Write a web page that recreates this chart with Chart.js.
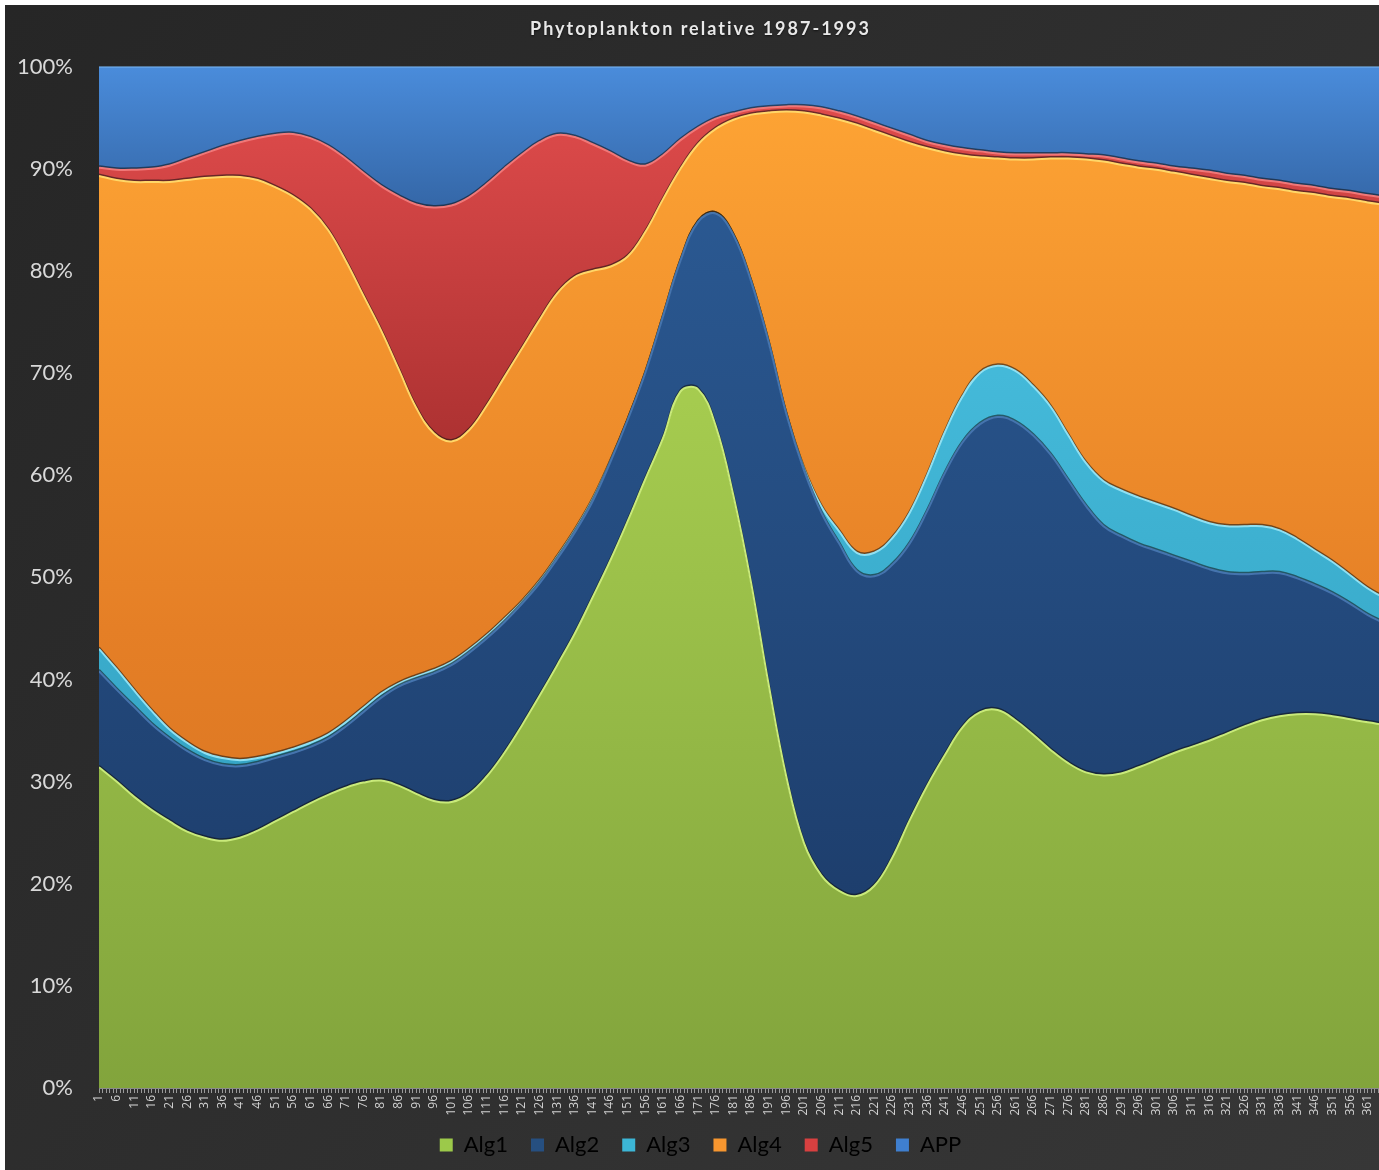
<!DOCTYPE html>
<html>
<head>
<meta charset="utf-8">
<script src="https://cdn.jsdelivr.net/npm/chart.js@4.4.1/dist/chart.umd.min.js"></script>
<style>
html,body{margin:0;padding:0;background:#ffffff;overflow:hidden;width:1379px;height:1170px;}
#wrap{position:absolute;left:5px;top:5px;width:1391px;height:1165px;}
</style>
</head>
<body>
<div id="wrap"><canvas id="c"></canvas></div>
<script>
// ---- data (day of year, % of total) ----
const days = [1,6,11,16,21,26,31,36,41,46,51,56,61,66,71,76,81,86,91,96,101,106,111,116,121,126,131,136,141,146,151,156,161,166,171,176,181,186,191,196,201,206,211,216,221,226,231,236,241,246,251,256,261,266,271,276,281,286,291,296,301,306,311,316,321,326,331,336,341,346,351,356,361,365];

const alg1 = [31.4,30.0,28.5,27.2,26.1,25.1,24.5,24.2,24.5,25.2,
              26.1,27.0,27.9,28.7,29.4,29.9,30.1,29.6,28.8,28.1,
              28.0,28.8,30.5,32.8,35.5,38.4,41.4,44.5,48.0,51.6,
              55.5,59.6,63.6,68.2,68.4,64.8,58.0,49.5,39.5,30.5,
              24.0,20.8,19.3,18.8,19.8,22.5,26.2,29.6,32.6,35.3,
              36.8,37.0,36.0,34.6,33.1,31.8,30.9,30.6,30.8,31.4,
              32.1,32.8,33.4,34.0,34.7,35.4,36.0,36.4,36.6,36.6,
              36.4,36.1,35.8,35.6];

const alg2 = [9.4,9.0,8.8,8.4,8.1,7.9,7.6,7.4,7.0,6.6,
              6.2,5.8,5.5,5.5,6.0,6.9,8.1,9.7,11.2,12.5,
              13.4,13.8,13.5,12.8,11.9,11.0,10.4,9.9,9.4,9.6,
              9.9,10.4,11.9,12.8,16.4,20.8,25.5,29.5,33.5,35.5,
              36.5,35.5,34.0,31.8,30.3,28.7,27.1,26.9,27.6,27.9,
              28.2,28.7,29.2,29.3,28.9,27.7,26.1,24.4,23.2,21.8,
              20.5,19.2,18.0,16.8,15.7,14.9,14.4,14.0,13.3,12.6,
              12.0,11.3,10.5,10.0];

const alg3 = [2.2,2.0,1.6,1.3,0.9,0.8,0.7,0.7,0.6,0.5,
              0.4,0.4,0.4,0.4,0.4,0.4,0.4,0.3,0.3,0.3,
              0.3,0.3,0.3,0.3,0.2,0.2,0.2,0.2,0.2,0.1,
              0,0,0,0,0,0,0,0,0,0,
              0.2,0.6,1.2,1.8,2.3,2.6,3.0,3.5,4.0,4.5,
              5.0,5.0,5.0,4.8,4.7,4.4,4.2,4.4,4.5,4.6,
              4.6,4.6,4.5,4.5,4.6,4.7,4.6,4.2,3.8,3.4,
              3.1,2.8,2.6,2.5];

const alg4 = [46.3,47.9,49.8,51.8,53.6,55.1,56.3,56.9,57.1,56.6,
              55.5,54.1,52.2,49.4,45.2,40.4,35.6,30.8,26.3,23.2,
              21.6,21.5,22.5,23.7,24.8,25.6,25.8,24.8,22.4,19.1,
              16.0,13.8,11.5,9.0,7.6,8.3,11.3,16.3,22.5,29.6,
              34.8,38.3,40.3,41.9,41.3,39.3,36.2,32.0,27.4,23.6,
              21.1,20.3,20.7,22.2,24.3,27.1,29.7,31.3,31.9,32.3,
              32.7,33.0,33.4,33.7,33.7,33.5,33.2,33.4,34.0,34.9,
              35.7,36.8,37.8,38.4];

const alg5 = [0.8,1.0,1.2,1.3,1.6,2.0,2.4,2.9,3.4,4.1,
              5.1,6.1,7.0,8.2,10.0,12.0,14.1,16.9,19.9,22.1,
              23.1,22.8,21.7,20.4,19.0,17.4,15.5,13.7,12.4,11.2,
              9.3,6.5,4.3,2.8,1.6,1.0,0.6,0.5,0.5,0.5,
              0.6,0.7,0.7,0.7,0.7,0.7,0.7,0.6,0.6,0.6,
              0.6,0.5,0.5,0.5,0.4,0.4,0.4,0.5,0.5,0.5,
              0.5,0.5,0.6,0.7,0.7,0.7,0.7,0.7,0.7,0.7,
              0.7,0.7,0.7,0.7];

const app  = [9.9,10.1,10.1,10.0,9.7,9.1,8.5,7.9,7.4,7.0,
              6.7,6.6,7.0,7.8,9.0,10.4,11.7,12.7,13.5,13.8,
              13.6,12.8,11.5,10.0,8.6,7.4,6.7,6.9,7.6,8.4,
              9.3,9.7,8.7,7.2,6.0,5.1,4.6,4.2,4.0,3.9,
              3.9,4.1,4.5,5.0,5.6,6.2,6.8,7.4,7.8,8.1,
              8.3,8.5,8.6,8.6,8.6,8.6,8.7,8.8,9.1,9.4,
              9.6,9.9,10.1,10.3,10.6,10.8,11.1,11.3,11.6,11.8,
              12.1,12.3,12.6,12.8];

const seriesNames = ['Alg1','Alg2','Alg3','Alg4','Alg5','APP'];
const seriesValues = [alg1, alg2, alg3, alg4, alg5, app];
const titleText = 'Phytoplankton relative 1987-1993';

// ---- styles ----
const gradientStops = [
  [[0,'#b6de58'],[1,'#82a43c']],
  [[0,'#2d5e99'],[1,'#1a3763']],
  [[0,'#4fc8e8'],[1,'#2a96b6']],
  [[0,'#ffa635'],[0.55,'#e57f26'],[1,'#d16d1f']],
  [[0,'#e44e4e'],[0.4,'#a82f2f'],[1,'#8a2424']],
  [[0,'#4a8cdb'],[0.14,'#3466a6'],[1,'#2a5590']]
];
const edgeColors = ['#c9ea7a','#4574ae','#8fe0f2','#ffd768','#f07878','#7ab6f2'];
const legendColors = ['#9cc94a','#264f80','#3cb6d6','#f7962f','#d84040','#3f7fcf'];

function makeGradient(stops) {
  return (ctx) => {
    const chart = ctx.chart;
    const a = chart.chartArea;
    if (!a) return stops[0][1];
    const g = chart.ctx.createLinearGradient(0, a.top, 0, a.bottom);
    stops.forEach(s => g.addColorStop(s[0], s[1]));
    return g;
  };
}

const datasets = seriesNames.map((name, i) => ({
  label: name,
  data: days.map((d, k) => ({x: d, y: seriesValues[i][k]})),
  fill: i === 0 ? 'origin' : '-1',
  backgroundColor: makeGradient(gradientStops[i]),
  borderColor: edgeColors[i],
  borderWidth: 2,
  pointRadius: 0,
  pointHoverRadius: 0,
  tension: 0.4
}));

const bgPlugin = {
  id: 'bg',
  beforeDraw(chart) {
    const {ctx, width, height} = chart;
    ctx.save();
    const g = ctx.createLinearGradient(0, 0, width, height);
    g.addColorStop(0, '#262626');
    g.addColorStop(1, '#373737');
    ctx.fillStyle = g;
    ctx.fillRect(0, 0, width, height);
    ctx.restore();
    const tb = chart.titleBlock;
    if (tb && !tb._spaced) {
      const orig = tb.draw.bind(tb);
      tb.draw = function () {
        const c = tb.ctx;
        c.save();
        c.letterSpacing = '2px';
        c.shadowColor = 'rgba(0,0,0,0.6)';
        c.shadowBlur = 2;
        c.shadowOffsetY = 1;
        orig();
        c.restore();
        c.letterSpacing = '0px';
      };
      tb._spaced = true;
    }
  }
};

const bevelPlugin = {
  id: 'bevel',
  beforeDatasetDraw(chart, args) {
    if (args.index === 5) return;
    const line = args.meta.dataset;
    const a = chart.chartArea;
    const ctx = chart.ctx;
    ctx.save();
    ctx.beginPath();
    ctx.rect(a.left, a.top, a.right - a.left, a.bottom - a.top);
    ctx.clip();
    ctx.translate(0, -1.5);
    ctx.beginPath();
    line.path(ctx);
    ctx.strokeStyle = 'rgba(15,15,15,0.55)';
    ctx.lineWidth = 2;
    ctx.lineJoin = 'round';
    ctx.stroke();
    ctx.restore();
  }
};

Chart.defaults.font.family = 'Lato, "Open Sans", sans-serif';

new Chart(document.getElementById('c'), {
  type: 'line',
  data: { datasets },
  plugins: [bgPlugin, bevelPlugin],
  options: {
    responsive: true,
    maintainAspectRatio: false,
    animation: false,
    events: [],
    layout: { padding: { left: 0, right: 0, top: 0, bottom: 4 } },
    plugins: {
      title: {
        display: true,
        text: titleText,
        color: '#e8e8e8',
        font: { size: 18, weight: 'bold', lineHeight: 1.2 },
        padding: { top: 13, bottom: 27 }
      },
      legend: {
        display: true,
        position: 'bottom',
        labels: {
          color: '#e4e4e4',
          font: { size: 22 },
          boxWidth: 13,
          boxHeight: 13,
          padding: 23,
          generateLabels: (chart) => chart.data.datasets.map((ds, i) => ({
            text: ds.label,
            fillStyle: legendColors[i],
            strokeStyle: legendColors[i],
            lineWidth: 0,
            hidden: false,
            datasetIndex: i
          }))
        }
      },
      tooltip: { enabled: false }
    },
    scales: {
      x: {
        type: 'linear',
        min: 1,
        max: 369,
        afterFit: (s) => {
          s.height = 23; s.paddingLeft = 0; s.paddingRight = 0;
          s._computeLabelArea = function () { return undefined; };
        },
        grid: { display: true, drawOnChartArea: false, drawTicks: true, tickLength: 5, color: '#9a9a9a', lineWidth: 1 },
        border: { display: true, color: '#8a8a8a' },
        ticks: {
          stepSize: 1,
          autoSkip: false,
          minRotation: 90,
          maxRotation: 90,
          padding: 2,
          color: '#d0d0d0',
          font: { size: 12, family: '"Open Sans", Lato, sans-serif' },
          callback: (v) => (Number.isInteger(v) && (v - 1) % 5 === 0 && v <= 361) ? String(v) : ''
        }
      },
      y: {
        stacked: true,
        min: 0,
        max: 100,
        afterFit: (s) => { s.width = 94; },
        grid: { display: false, drawTicks: false },
        border: { display: false },
        ticks: {
          stepSize: 10,
          padding: 26,
          color: '#d9d9d9',
          font: { size: 22 },
          callback: (v) => v + '%'
        }
      }
    }
  }
});
</script>
</body>
</html>
